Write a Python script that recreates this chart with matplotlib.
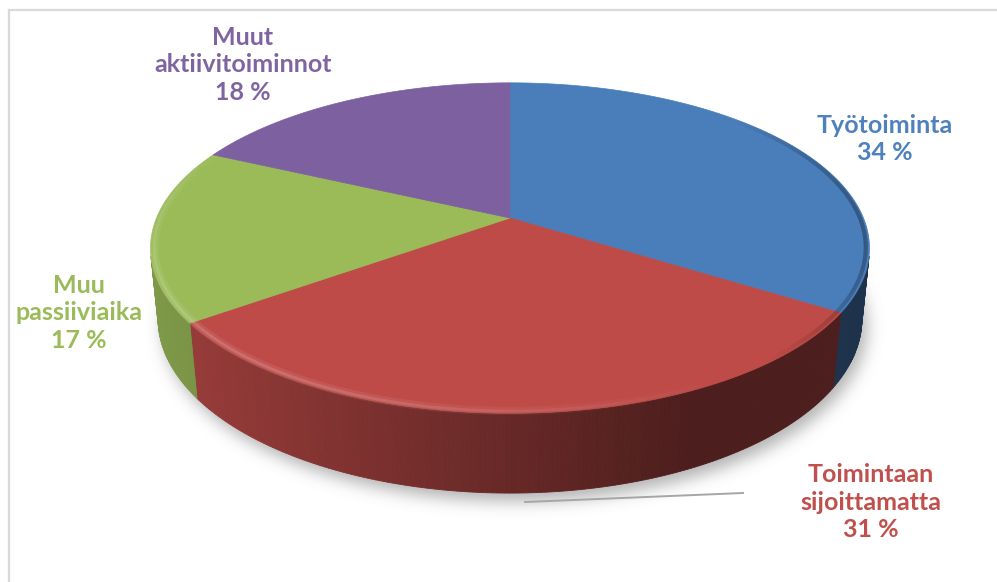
import numpy as np
import matplotlib.pyplot as plt
from matplotlib.patches import Polygon
from matplotlib.path import Path
import matplotlib.colors as mcolors

# data
labels = ['Työtoiminta', 'Toimintaan\nsijoittamatta', 'Muu\npassiiviaika', 'Muut\naktiivitoiminnot']
values = [34, 31, 17, 18]
top_colors = ['#4a7ebb', '#be4b48', '#9bbb59', '#7d60a0']
text_colors = ['#4f81bd', '#c0504d', '#9bbb59', '#8064a2']
label_xy = [(885, 139), (871, 502), (79, 313), (243, 65)]

W, H = 997, 582

# 3d view (pixel space)
CX, CY = 510, 218
SCALE = 1732
ELEV = np.arcsin(0.452)
DIST = 4.9
DEPTH = 0.225


def project(theta, r=1.0, z=0.0):
    X = r * np.sin(theta)
    Y = -r * np.cos(theta)
    se, ce = np.sin(ELEV), np.cos(ELEV)
    d = DIST - Y * ce - z * se
    return CX + SCALE * X / d, CY + SCALE * (Y * se - z * ce) / d


def side_shade(x):
    t = (x - 150) / 719.0
    return max(0.40, 0.82 - 0.56 * t)


fig = plt.figure(figsize=(W / 100, H / 100), dpi=100)
ax = fig.add_axes([0, 0, 1, 1])
ax.set_xlim(0, W)
ax.set_ylim(H, 0)
ax.axis('off')

# frame
ax.plot([9, 9], [10, H], color='#d9d9d9', lw=1.6, zorder=1)
ax.plot([9, W], [10, 10], color='#d9d9d9', lw=1.6, zorder=1)

# soft shadow under the pie
th = np.linspace(0, 2 * np.pi, 400)
bx, by = project(th, 1.0, -DEPTH)
path = Path(np.column_stack([bx + 5, by + 8]))
gx, gy = np.meshgrid(np.arange(W) + 0.5, np.arange(H) + 0.5)
mask = path.contains_points(np.column_stack([gx.ravel(), gy.ravel()])).reshape(H, W).astype(float)
k = np.exp(-0.5 * (np.arange(-24, 25) / 8.0) ** 2)
k /= k.sum()
mask = np.apply_along_axis(lambda m: np.convolve(m, k, mode='same'), 0, mask)
mask = np.apply_along_axis(lambda m: np.convolve(m, k, mode='same'), 1, mask)
rgba = np.zeros((H, W, 4))
rgba[..., :3] = 0.45
rgba[..., 3] = mask * 0.55
ax.imshow(rgba, extent=(0, W, H, 0), zorder=2, interpolation='bilinear')

# slice angles, clockwise from 12 o'clock
total = float(sum(values))
edges = np.concatenate([[0], np.cumsum(values)]) / total * 2 * np.pi
vis_lo = np.arccos(-1.0 / (DIST * np.cos(ELEV)))
vis_hi = 2 * np.pi - vis_lo

# outer walls
for i, col in enumerate(top_colors):
    a0, a1 = max(edges[i], vis_lo), min(edges[i + 1], vis_hi)
    if a1 <= a0:
        continue
    base = np.array(mcolors.to_rgb(col))
    steps = np.linspace(a0, a1, max(3, int((a1 - a0) / np.radians(0.6))))
    for s0, s1 in zip(steps[:-1], steps[1:]):
        x0, y0 = project(s0)
        x1, y1 = project(s1)
        x2, y2 = project(s1, 1.0, -DEPTH)
        x3, y3 = project(s0, 1.0, -DEPTH)
        c = base * side_shade((x0 + x1) / 2)
        ax.add_patch(Polygon([(x0, y0), (x1, y1), (x2, y2), (x3, y3)], closed=True,
                             facecolor=c, edgecolor=c, lw=0.6, zorder=3))

# top faces
for i, col in enumerate(top_colors):
    t = np.linspace(edges[i], edges[i + 1], 200)
    px, py = project(t)
    pts = [(CX, CY)] + list(zip(px, py))
    ax.add_patch(Polygon(pts, closed=True, facecolor=col, edgecolor=col, lw=0.5, zorder=4))

# bevel highlight on the front-left rim, dark edge on the right
t = np.linspace(np.radians(150), np.radians(300), 120)
hx, hy = project(t, 0.99)
for j in range(len(t) - 1):
    a = np.sin((t[j] - t[0]) / (t[-1] - t[0]) * np.pi)
    ax.plot(hx[j:j + 2], hy[j:j + 2], color='white', alpha=a * 0.08, lw=6,
            solid_capstyle='butt', zorder=5)
    ax.plot(hx[j:j + 2], hy[j:j + 2], color='white', alpha=a * 0.14, lw=2,
            solid_capstyle='butt', zorder=5)
t = np.linspace(np.radians(45), np.radians(140), 80)
dx, dy = project(t, 0.99)
for j in range(len(t) - 1):
    a = np.sin((t[j] - t[0]) / (t[-1] - t[0]) * np.pi) * 0.3
    ax.plot(dx[j:j + 2], dy[j:j + 2], color='black', alpha=a, lw=3,
            solid_capstyle='butt', zorder=5)

# leader line for the red slice
ax.plot([525, 743], [502, 493], color='#a6a6a6', lw=1.4, zorder=5)

# data labels
for lab, v, c, (x, y) in zip(labels, values, text_colors, label_xy):
    ax.text(x, y, f'{lab}\n{v} %', color=c, ha='center', va='center',
            fontsize=18, fontweight='bold', family=['Lato', 'DejaVu Sans'],
            linespacing=1.22, zorder=6)

fig.savefig('out.png', dpi=100)
